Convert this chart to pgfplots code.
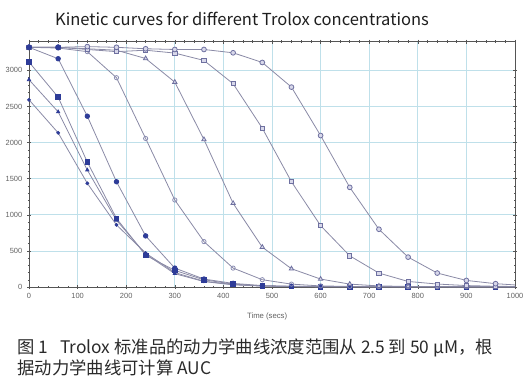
\documentclass[border=0pt]{standalone}
\usepackage{pgfplots}
\pgfplotsset{compat=1.18}
\usepackage{fontspec}
\setmainfont{Noto Sans CJK SC}
\newfontfamily\arialfont{Liberation Sans}
\definecolor{gridc}{HTML}{BFE0EA}
\definecolor{axc}{HTML}{555555}
\definecolor{labc}{HTML}{606060}
\definecolor{linec}{HTML}{8A8AA6}
\definecolor{darkb}{HTML}{2E3C98}
\definecolor{openc}{HTML}{6E70A0}
\definecolor{openf}{HTML}{D8D8EA}
\definecolor{titc}{HTML}{1E1E1E}
\definecolor{capc}{HTML}{2A2A2A}
\begin{document}
\begin{tikzpicture}[x=1pt,y=1pt]
\path[use as bounding box] (0,0) rectangle (398.25,292.5);
\node[anchor=center, text=titc, font=\fontsize{12.4}{14}\selectfont] at (181.5,278) {Kinetic curves for different Trolox concentrations};
\begin{axis}[
 at={(21.75pt,77.25pt)}, anchor=south west,
 scale only axis, width=364.5pt, height=184.1pt,
 xmin=0, xmax=1000, ymin=0, ymax=3400,
 xtick={0,100,...,1000}, ytick={0,500,...,3000},
 minor x tick num=4, minor y tick num=4,
 grid=major, major grid style={color=gridc, line width=0.5pt},
 axis line style={color=axc, line width=0.6pt},
 tick style={color=axc, line width=0.4pt},
 major tick length=3pt, minor tick length=1.6pt,
 tick align=center,
 ticklabel style={font=\arialfont\fontsize{5.6}{6.5}\selectfont, text=labc},
 /pgf/number format/assume math mode=true,
 /pgf/number format/set thousands separator={},
 xlabel={Time (secs)},
 xlabel style={font=\arialfont\fontsize{5.8}{7}\selectfont, text=labc, at={(axis description cs:0.49,0)}, anchor=center, yshift=-22pt},
 clip=true,
 every axis plot/.append style={color=linec, line width=0.6pt},
]
% curve 1: small dots
\addplot[mark=*, mark size=1.1pt, mark options={draw=darkb, fill=darkb}] coordinates {
(0,2593)(60,2135)(120,1436)(180,860)(240,470)(300,200)(360,80)(420,35)(480,15)(540,8)(600,5)(660,4)(720,3)(780,3)(840,3)(900,3)(960,3)(1020,3)};
% curve 2: small filled triangles
\addplot[mark=triangle*, mark size=1.4pt, mark options={draw=darkb, fill=darkb}] coordinates {
(0,2871)(60,2426)(120,1620)(180,925)(240,455)(300,185)(360,75)(420,30)(480,12)(540,6)(600,4)(660,3)(720,3)(780,3)(840,3)(900,3)(960,3)(1020,3)};
% curve 3: filled squares
\addplot[mark=square*, mark size=1.7pt, mark options={draw=darkb, fill=darkb}] coordinates {
(0,3116)(60,2630)(120,1730)(180,950)(240,440)(300,230)(360,100)(420,40)(480,15)(540,8)(600,5)(660,4)(720,3)(780,3)(840,3)(900,3)(960,3)(1020,3)};
% curve 4: filled circles
\addplot[mark=*, mark size=1.7pt, mark options={draw=darkb, fill=darkb}] coordinates {
(0,3320)(60,3162)(120,2366)(180,1458)(240,708)(300,262)(360,110)(420,50)(480,20)(540,10)(600,8)(660,6)(720,5)(780,5)(840,5)(900,5)(960,5)(1020,5)};
% curve 5: open circles (light)
\addplot[mark=o, mark size=1.6pt, mark options={draw=openc!80, fill=openf}] coordinates {
(0,3320)(60,3310)(120,3260)(180,2899)(240,2057)(300,1205)(360,629)(420,262)(480,101)(540,40)(600,15)(660,8)(720,6)(780,5)(840,5)(900,5)(960,5)(1020,5)};
% curve 6: open triangles
\addplot[mark=triangle*, mark size=1.9pt, mark options={draw=openc, fill=openf}] coordinates {
(0,3320)(60,3320)(120,3300)(180,3280)(240,3165)(300,2838)(360,2043)(420,1159)(480,552)(540,253)(600,110)(660,40)(720,15)(780,8)(840,6)(900,5)(960,5)(1020,5)};
% curve 7: open squares
\addplot[mark=square*, mark size=1.6pt, mark options={draw=openc, fill=openf}] coordinates {
(0,3320)(60,3320)(120,3290)(180,3260)(240,3280)(300,3240)(360,3138)(420,2816)(480,2200)(540,1458)(600,850)(660,432)(720,193)(780,77)(840,41)(900,20)(960,10)(1020,6)};
% curve 8: open circles
\addplot[mark=*, mark size=1.8pt, mark options={draw=openc, fill=openf}] coordinates {
(0,3320)(60,3320)(120,3330)(180,3320)(240,3300)(300,3290)(360,3290)(420,3244)(480,3110)(540,2769)(600,2098)(660,1380)(720,800)(780,414)(840,193)(900,91)(960,46)(1020,20)};
% dark start markers
\addplot[only marks, mark=*, mark size=1.9pt, mark options={draw=darkb, fill=darkb}] coordinates {(0,3320)(60,3320)};
\end{axis}
\node[anchor=base west, text=capc, font=\fontsize{13}{16}\selectfont] at (9.5,27.5) {图 1\hspace{0.7em}Trolox 标准品的动力学曲线浓度范围从 2.5 到 50 μM，根};
\node[anchor=base west, text=capc, font=\fontsize{13}{16}\selectfont] at (9.5,12) {据动力学曲线可计算 AUC};
\end{tikzpicture}
\end{document}
